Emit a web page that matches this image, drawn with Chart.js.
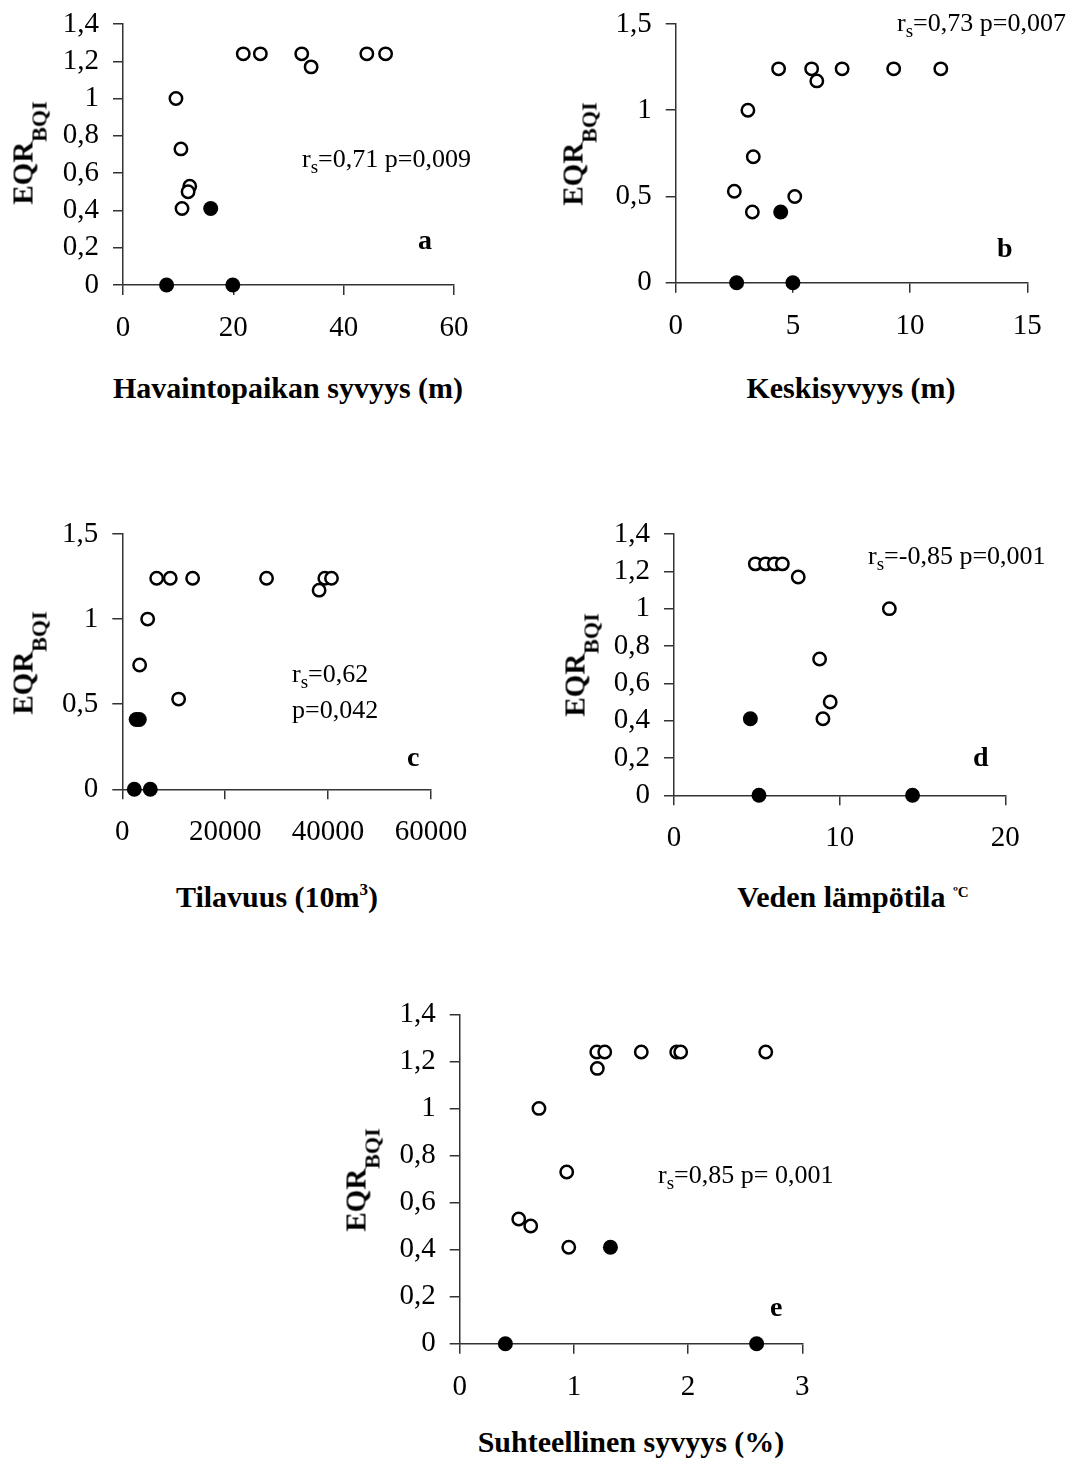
<!DOCTYPE html>
<html>
<head>
<meta charset="utf-8">
<script src="https://cdn.jsdelivr.net/npm/chart.js@4.4.0/dist/chart.umd.min.js"></script>
<style>
  body { margin: 0; background: #fff; }
  #page { position: relative; width: 1091px; height: 1461px; overflow: hidden; font-family: 'Liberation Serif', 'Times New Roman', serif; color: #000; }
  .box { position: absolute; }
  .ytitle { position: absolute; font-weight: bold; font-size: 29px; line-height: 29px; white-space: nowrap; transform: translate(-50%, -50%) rotate(-90deg); }
  .ytitle .sub { font-size: 22px; position: relative; top: 14px; }
  .xtitle { position: absolute; font-weight: bold; font-size: 30px; line-height: 30px; white-space: nowrap; transform: translateX(-50%); }
  .xtitle .sup3 { font-size: 17px; position: relative; top: -12px; }
  .xtitle .supc { font-size: 15px; position: relative; top: -10px; }
  .ann { position: absolute; font-size: 26px; line-height: 26px; white-space: nowrap; }
  .ann .s { font-size: 19px; position: relative; top: 6px; }
  .tag { position: absolute; font-weight: bold; font-size: 28px; line-height: 28px; }
</style>
</head>
<body>
<div id="page">
  <div class="box" id="boxA"><canvas id="chartA"></canvas></div>
  <div class="box" id="boxB"><canvas id="chartB"></canvas></div>
  <div class="box" id="boxC"><canvas id="chartC"></canvas></div>
  <div class="box" id="boxD"><canvas id="chartD"></canvas></div>
  <div class="box" id="boxE"><canvas id="chartE"></canvas></div>

  <div class="ytitle" style="left:24px; top:153px">EQR<span class="sub">BQI</span></div>
  <div class="ytitle" style="left:574px; top:154px">EQR<span class="sub">BQI</span></div>
  <div class="ytitle" style="left:24px; top:663px">EQR<span class="sub">BQI</span></div>
  <div class="ytitle" style="left:576px; top:665px">EQR<span class="sub">BQI</span></div>
  <div class="ytitle" style="left:357px; top:1180px">EQR<span class="sub">BQI</span></div>

  <div class="xtitle" style="left:288px; top:373px">Havaintopaikan syvyys (m)</div>
  <div class="xtitle" style="left:851px; top:373px">Keskisyvyys (m)</div>
  <div class="xtitle" style="left:277px; top:882px">Tilavuus (10m<span class="sup3">3</span>)</div>
  <div class="xtitle" style="left:853px; top:882px">Veden lämpötila <span class="supc">ºC</span></div>
  <div class="xtitle" style="left:631px; top:1427px">Suhteellinen syvyys (%)</div>

  <div class="ann" style="left:302px; top:146px">r<span class="s">s</span>=0,71 p=0,009</div>
  <div class="ann" style="left:897px; top:10px">r<span class="s">s</span>=0,73 p=0,007</div>
  <div class="ann" style="left:292px; top:661px">r<span class="s">s</span>=0,62</div>
  <div class="ann" style="left:292px; top:697px">p=0,042</div>
  <div class="ann" style="left:868px; top:543px">r<span class="s">s</span>=-0,85 p=0,001</div>
  <div class="ann" style="left:658px; top:1162px">r<span class="s">s</span>=0,85 p= 0,001</div>

  <div class="tag" style="left:418px; top:226px">a</div>
  <div class="tag" style="left:997px; top:234px">b</div>
  <div class="tag" style="left:407px; top:743px">c</div>
  <div class="tag" style="left:973px; top:743px">d</div>
  <div class="tag" style="left:770px; top:1293px">e</div>
</div>

<script>
// tick values
const yTicks14 = [0, 0.2, 0.4, 0.6, 0.8, 1, 1.2, 1.4];
const yTicks15 = [0, 0.5, 1, 1.5];
const xTicksA = [0, 20, 40, 60];
const xTicksB = [0, 5, 10, 15];
const xTicksC = [0, 20000, 40000, 60000];
const xTicksD = [0, 10, 20];
const xTicksE = [0, 1, 2, 3];

// a: sampling depth (m)
const aOpenX = [21.8, 24.9, 32.4, 34.1, 44.2, 47.6, 9.6, 10.5, 12.1, 11.8, 10.7];
const aOpenY = [1.24, 1.24, 1.24, 1.17, 1.24, 1.24, 1.0, 0.73, 0.53, 0.50, 0.41];
const aFillX = [15.9, 7.9, 19.9];
const aFillY = [0.41, 0, 0];

// b: mean depth (m)
const bOpenX = [4.39, 5.80, 6.02, 7.10, 9.30, 11.31, 3.08, 3.31, 2.50, 3.27, 5.08];
const bOpenY = [1.24, 1.24, 1.17, 1.24, 1.24, 1.24, 1.0, 0.73, 0.53, 0.41, 0.50];
const bFillX = [4.48, 2.60, 5.0];
const bFillY = [0.41, 0, 0];

// c: volume (10 m3)
const cOpenX = [6680, 9320, 13670, 28040, 38250, 39360, 40660, 4930, 3370, 10950];
const cOpenY = [1.24, 1.24, 1.24, 1.24, 1.17, 1.24, 1.24, 1.0, 0.73, 0.53];
const cFillX = [2700, 3300, 2330, 5440];
const cFillY = [0.41, 0.41, 0, 0];

// d: water temperature (C)
const dOpenX = [4.91, 5.53, 6.06, 6.54, 7.50, 13.0, 8.79, 9.43, 8.99];
const dOpenY = [1.24, 1.24, 1.24, 1.24, 1.17, 1.0, 0.73, 0.50, 0.41];
const dFillX = [4.61, 5.13, 14.4];
const dFillY = [0.41, 0, 0];

// e: relative depth (%)
const eOpenX = [1.20, 1.27, 1.205, 1.59, 1.90, 1.935, 2.68, 0.694, 0.937, 0.517, 0.622, 0.955];
const eOpenY = [1.24, 1.24, 1.17, 1.24, 1.24, 1.24, 1.24, 1.0, 0.73, 0.53, 0.50, 0.41];
const eFillX = [1.32, 0.40, 2.60];
const eFillY = [0.41, 0, 0];

Chart.defaults.font.family = "'Liberation Serif', 'Times New Roman', serif";
Chart.defaults.color = '#000';

const axisColor = '#333';

function toPoints(xs, ys) {
  return xs.map((x, i) => ({ x: x, y: ys[i] }));
}

function commaLabel(v) {
  return String(+v.toFixed(2)).replace('.', ',');
}

// outer: canvas box on the page, area: plot area on the page
function panel(id, boxId, outer, area, xTicks, yTicks, openX, openY, fillX, fillY) {
  const box = document.getElementById(boxId);
  box.style.left = outer.x + 'px';
  box.style.top = outer.y + 'px';
  const canvas = document.getElementById(id);
  canvas.width = outer.w;
  canvas.height = outer.h;
  canvas.style.width = outer.w + 'px';
  canvas.style.height = outer.h + 'px';

  const yWidth = area.l - outer.x;
  const xHeight = outer.y + outer.h - area.b;

  const axisStyle = {
    border: { display: true, color: axisColor, width: 1.5 },
    grid: { drawOnChartArea: false, drawTicks: true, tickLength: 10, color: axisColor, lineWidth: 1.5 }
  };

  new Chart(canvas.getContext('2d'), {
    type: 'scatter',
    data: {
      datasets: [{
        data: toPoints(fillX, fillY),
        pointRadius: 7.5,
        pointBackgroundColor: '#000',
        pointBorderWidth: 0,
        clip: false
      }, {
        data: toPoints(openX, openY),
        pointRadius: 6.2,
        pointBackgroundColor: '#fff',
        pointBorderColor: '#000',
        pointBorderWidth: 2.5,
        clip: false
      }]
    },
    options: {
      responsive: false,
      animation: false,
      devicePixelRatio: 1,
      layout: {
        autoPadding: false,
        padding: { left: 0, top: area.t - outer.y, right: outer.x + outer.w - area.r, bottom: 0 }
      },
      plugins: { legend: { display: false }, tooltip: { enabled: false } },
      scales: {
        x: Object.assign({
          type: 'linear',
          min: xTicks[0],
          max: xTicks[xTicks.length - 1],
          afterBuildTicks: s => { s.ticks = xTicks.map(v => ({ value: v })); },
          afterFit: s => { s.height = xHeight; s.paddingLeft = 0; s.paddingRight = 0; },
          ticks: { font: { size: 29 }, padding: 16, maxRotation: 0, autoSkip: false, callback: v => commaLabel(v) }
        }, axisStyle),
        y: Object.assign({
          type: 'linear',
          min: yTicks[0],
          max: yTicks[yTicks.length - 1],
          afterBuildTicks: s => { s.ticks = yTicks.map(v => ({ value: v })); },
          afterFit: s => { s.width = yWidth; s.paddingTop = 0; s.paddingBottom = 0; },
          ticks: { font: { size: 29 }, padding: 14, autoSkip: false, callback: v => commaLabel(v) }
        }, axisStyle)
      }
    }
  });
}

panel('chartA', 'boxA', { x: 0, y: 0, w: 545, h: 360 }, { l: 123, t: 24, r: 454, b: 285 },
  xTicksA, yTicks14, aOpenX, aOpenY, aFillX, aFillY);
panel('chartB', 'boxB', { x: 545, y: 0, w: 546, h: 360 }, { l: 675.7, t: 24, r: 1027.3, b: 282.7 },
  xTicksB, yTicks15, bOpenX, bOpenY, bFillX, bFillY);
panel('chartC', 'boxC', { x: 0, y: 500, w: 545, h: 370 }, { l: 122.3, t: 534, r: 431, b: 789.3 },
  xTicksC, yTicks15, cOpenX, cOpenY, cFillX, cFillY);
panel('chartD', 'boxD', { x: 545, y: 500, w: 546, h: 370 }, { l: 674, t: 534, r: 1005.3, b: 795.3 },
  xTicksD, yTicks14, dOpenX, dOpenY, dFillX, dFillY);
panel('chartE', 'boxE', { x: 330, y: 990, w: 570, h: 410 }, { l: 459.7, t: 1014.3, r: 802.3, b: 1343.7 },
  xTicksE, yTicks14, eOpenX, eOpenY, eFillX, eFillY);
</script>
</body>
</html>
